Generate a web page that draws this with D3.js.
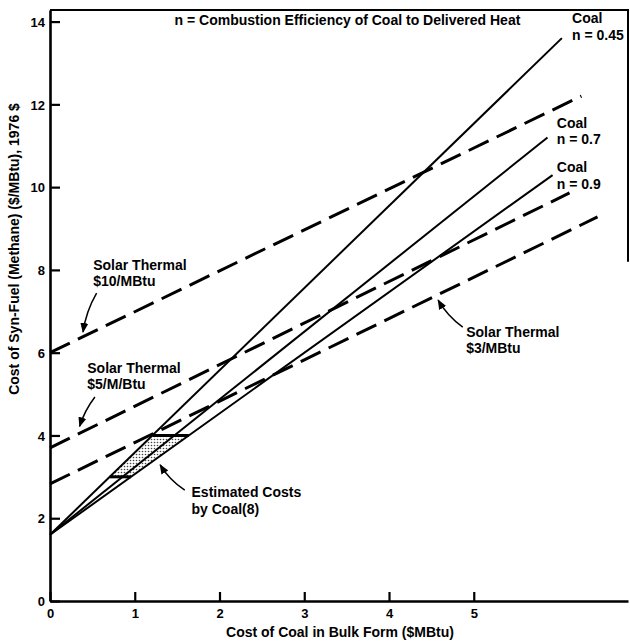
<!DOCTYPE html>
<html>
<head>
<meta charset="utf-8">
<script src="https://cdn.jsdelivr.net/npm/d3@7"></script>
<style>
  body { margin: 0; background: #fff; }
  svg { display: block; font-family: "Liberation Sans", Arial, sans-serif; font-weight: bold; }
</style>
</head>
<body>
<svg id="chart" width="630" height="641"></svg>
<script>
// Coal lines (solid): start / end points, ($/MBtu coal, $/MBtu syn-fuel)
const coalNames = ["n = 0.45", "n = 0.7", "n = 0.9"];
const coalStart = [[0, 1.6], [0, 1.6], [0, 1.6]];
const coalEnd   = [[6.04, 13.6], [5.87, 11.2], [5.93, 10.29]];

// Solar thermal lines (dashed)
const solarNames = ["$10/MBtu", "$5/M/Btu", "$3/MBtu"];
const solarStart = [[0, 6.0], [0, 3.7], [0, 2.83]];
const solarEnd   = [[6.27, 12.2], [6.13, 9.86], [6.46, 9.28]];

// Band of estimated coal syn-fuel costs, between n = 0.45 and n = 0.9
const estimatedRange = [3, 4];

const xTicks = [0, 1, 2, 3, 4, 5];
const yTicks = [0, 2, 4, 6, 8, 10, 12, 14];

const svg = d3.select("#chart");
const W = 630, H = 641;
const m = { top: 10, right: 2, bottom: 40, left: 50 };

const x = d3.scaleLinear().domain([0, 6.82]).range([m.left, W - m.right]);
const y = d3.scaleLinear().domain([0, 14.28]).range([H - m.bottom, m.top]);

// x position where a straight segment reaches cost v
function xAt(p0, p1, v) {
  return p0[0] + (v - p0[1]) * (p1[0] - p0[0]) / (p1[1] - p0[1]);
}

const defs = svg.append("defs");
defs.append("marker")
  .attr("id", "head")
  .attr("viewBox", "0 -5 10 10")
  .attr("refX", 9).attr("refY", 0)
  .attr("markerUnits", "userSpaceOnUse")
  .attr("markerWidth", 10).attr("markerHeight", 10)
  .attr("orient", "auto")
  .append("path")
    .attr("d", "M0,-4L10,0L0,4Z")
    .attr("fill", "#000");

const dots = defs.append("pattern")
  .attr("id", "dots")
  .attr("patternUnits", "userSpaceOnUse")
  .attr("width", 3).attr("height", 3);
dots.append("rect").attr("width", 3).attr("height", 3).attr("fill", "#fff");
dots.append("circle").attr("cx", 1.5).attr("cy", 1.5).attr("r", 0.8).attr("fill", "#444");

// ----- estimated cost band -----
const lo = estimatedRange[0], hi = estimatedRange[1];
const band = [
  [xAt(coalStart[0], coalEnd[0], lo), lo],
  [xAt(coalStart[0], coalEnd[0], hi), hi],
  [xAt(coalStart[2], coalEnd[2], hi), hi],
  [xAt(coalStart[2], coalEnd[2], lo), lo]
];
svg.append("path")
  .attr("d", d3.line().x(d => x(d[0])).y(d => y(d[1]))(band) + "Z")
  .attr("fill", "url(#dots)");
[[band[0], band[3]], [band[1], band[2]]].forEach(seg => {
  svg.append("line")
    .attr("x1", x(seg[0][0])).attr("y1", y(seg[0][1]))
    .attr("x2", x(seg[1][0])).attr("y2", y(seg[1][1]))
    .attr("stroke", "#000").attr("stroke-width", 3);
});

// ----- lines -----
coalNames.forEach((name, i) => {
  svg.append("line")
    .attr("x1", x(coalStart[i][0])).attr("y1", y(coalStart[i][1]))
    .attr("x2", x(coalEnd[i][0])).attr("y2", y(coalEnd[i][1]))
    .attr("stroke", "#000").attr("stroke-width", 2);
});
solarNames.forEach((name, i) => {
  svg.append("line")
    .attr("x1", x(solarStart[i][0])).attr("y1", y(solarStart[i][1]))
    .attr("x2", x(solarEnd[i][0])).attr("y2", y(solarEnd[i][1]))
    .attr("stroke", "#000").attr("stroke-width", 3)
    .attr("stroke-dasharray", "22,9");
});

// ----- axes -----
const gx = svg.append("g")
  .attr("transform", `translate(0,${y(0)})`)
  .call(d3.axisBottom(x).tickValues(xTicks).tickFormat(d3.format("d"))
    .tickSizeInner(-9).tickSizeOuter(0).tickPadding(8));
const gy = svg.append("g")
  .attr("transform", `translate(${x(0)},0)`)
  .call(d3.axisLeft(y).tickValues(yTicks).tickFormat(d3.format("d"))
    .tickSizeInner(-10).tickSizeOuter(0).tickPadding(5));
[gx, gy].forEach(g => {
  g.select(".domain").attr("stroke", "#000").attr("stroke-width", 2.6);
  g.selectAll(".tick line").attr("stroke", "#000").attr("stroke-width", 2.2);
  g.selectAll(".tick text").attr("fill", "#000")
    .style("font-size", "13px").style("font-weight", "bold")
    .style("font-family", "'Liberation Sans', Arial, sans-serif");
});
gy.selectAll(".tick text").attr("dy", "0.36em");

// frame (top and upper right edge, as in the scan)
svg.append("path")
  .attr("d", `M${x(0)},${m.top}H${W - m.right}V${y(8.2)}`)
  .attr("fill", "none").attr("stroke", "#000").attr("stroke-width", 2);

// ----- axis titles -----
svg.append("text")
  .attr("x", 340).attr("y", 637)
  .attr("text-anchor", "middle")
  .style("font-size", "14px")
  .text("Cost of Coal in Bulk Form ($MBtu)");
svg.append("text")
  .attr("transform", "translate(19,249) rotate(-90)")
  .attr("text-anchor", "middle")
  .style("font-size", "14px")
  .text("Cost of Syn-Fuel (Methane) ($/MBtu), 1976 $");

svg.append("text")
  .attr("x", x(3.51)).attr("y", y(13.91))
  .attr("text-anchor", "middle")
  .style("font-size", "14px")
  .text("n = Combustion Efficiency of Coal to Delivered Heat");

// ----- annotations (data coordinates) -----
const notes = [
  { lines: ["Coal", coalNames[0]], at: [6.16, 13.96] },
  { lines: ["Coal", coalNames[1]], at: [5.98, 11.43] },
  { lines: ["Coal", coalNames[2]], at: [5.98, 10.36] },
  { lines: ["Solar Thermal", solarNames[0]], at: [0.51, 8.0],  arrow: [[0.55, 7.44], [0.39, 6.5]],  bend: 4 },
  { lines: ["Solar Thermal", solarNames[1]], at: [0.44, 5.51], arrow: [[0.53, 4.93], [0.35, 4.22]], bend: 3 },
  { lines: ["Solar Thermal", solarNames[2]], at: [4.91, 6.38], arrow: [[4.87, 6.62], [4.58, 7.27]], bend: -4 },
  { lines: ["Estimated Costs", "by Coal(8)"], at: [1.67, 2.51], arrow: [[1.59, 2.68], [1.30, 3.29]], bend: -4 }
];

notes.forEach(n => {
  const t = svg.append("text")
    .attr("x", x(n.at[0])).attr("y", y(n.at[1]))
    .style("font-size", "14px");
  n.lines.forEach((s, k) => {
    t.append("tspan").attr("x", x(n.at[0])).attr("dy", k ? 16.5 : 0).text(s);
  });
  if (n.arrow) {
    const x0 = x(n.arrow[0][0]), y0 = y(n.arrow[0][1]);
    const x1 = x(n.arrow[1][0]), y1 = y(n.arrow[1][1]);
    const dx = x1 - x0, dy = y1 - y0, len = Math.hypot(dx, dy);
    const cx = (x0 + x1) / 2 - dy / len * n.bend;
    const cy = (y0 + y1) / 2 + dx / len * n.bend;
    const p = d3.path();
    p.moveTo(x0, y0);
    p.quadraticCurveTo(cx, cy, x1, y1);
    svg.append("path")
      .attr("d", p.toString())
      .attr("fill", "none").attr("stroke", "#000").attr("stroke-width", 1.5)
      .attr("marker-end", "url(#head)");
  }
});
</script>
</body>
</html>
